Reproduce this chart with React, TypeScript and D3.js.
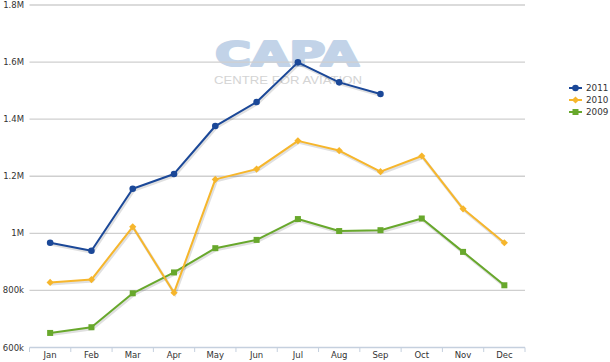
import React from 'react';
import * as d3 from 'd3';

const months = ['Jan', 'Feb', 'Mar', 'Apr', 'May', 'Jun', 'Jul', 'Aug', 'Sep', 'Oct', 'Nov', 'Dec'];
const s2011 = [967000, 939000, 1156000, 1208000, 1376000, 1460000, 1599000, 1529000, 1488000];
const s2010 = [828000, 838000, 1023000, 792000, 1189000, 1225000, 1324000, 1290000, 1216000, 1271000, 1086000, 967000];
const s2009 = [651000, 671000, 790000, 863000, 948000, 977000, 1050000, 1008000, 1011000, 1052000, 935000, 818000];
const yTicks = [600000, 800000, 1000000, 1200000, 1400000, 1600000, 1800000];
const yTickLabels = ['600k', '800k', '1M', '1.2M', '1.4M', '1.6M', '1.8M'];

const W = 610;
const H = 362;
const FONT = '"DejaVu Sans", Verdana, sans-serif';

const series = [
  { name: '2011', values: s2011, color: '#1b4898', marker: 'circle' },
  { name: '2010', values: s2010, color: '#f6b62c', marker: 'diamond' },
  { name: '2009', values: s2009, color: '#68a82c', marker: 'square' },
];

function Marker({ kind, x, y, color }) {
  if (kind === 'circle') return <circle cx={x} cy={y} r={3.3} fill={color} />;
  if (kind === 'square') return <rect x={x - 3} y={y - 3} width={6} height={6} fill={color} />;
  return <path d={`M${x},${y - 3.6}L${x + 3.6},${y}L${x},${y + 3.6}L${x - 3.6},${y}Z`} fill={color} />;
}

export default function App() {
  const x = d3.scaleBand().domain(months).range([29.5, 525]).padding(0);
  const y = d3.scaleLinear().domain([600000, 1800000]).range([347.5, 5]);
  const cx = (m) => x(m) + x.bandwidth() / 2;

  const line = d3.line()
    .x((d, i) => cx(months[i]))
    .y(d => y(d));

  return (
    <svg width={W} height={H} style={{ position: 'absolute', left: 0, top: 0, background: '#fff' }}>
      {/* watermark */}
      <text x={215} y={66} fontFamily='"DejaVu Sans", sans-serif' fontWeight="bold" fontSize={33}
        fill="#c2d3e8" stroke="#c2d3e8" strokeWidth={2.2} strokeLinejoin="round"
        textLength={144} lengthAdjust="spacingAndGlyphs">CAPA</text>
      <text x={214} y={83.5} fontFamily='"Liberation Sans", Arial, sans-serif' fontSize={11}
        fill="#d4d4d4" textLength={148} lengthAdjust="spacingAndGlyphs">CENTRE FOR AVIATION</text>

      {/* grid + y labels */}
      {yTicks.map((t, i) => (
        <g key={t}>
          {i > 0 && (
            <line x1={29.5} x2={525} y1={y(t)} y2={y(t)} stroke="#cfcfcf" strokeWidth={1.3} />
          )}
          <text x={24} y={y(t) + 3} textAnchor="end" fontFamily={FONT} fontSize={8.5} fill="#333">
            {yTickLabels[i]}
          </text>
        </g>
      ))}

      {/* x axis */}
      <line x1={29.5} x2={525} y1={347.5} y2={347.5} stroke="#c5d0de" strokeWidth={1.5} />
      {months.map(m => (
        <line key={'t' + m} x1={x(m)} x2={x(m)} y1={347.5} y2={352} stroke="#c5d0de" strokeWidth={1} />
      ))}
      <line x1={525} x2={525} y1={347.5} y2={352} stroke="#c5d0de" strokeWidth={1} />
      {months.map(m => (
        <text key={m} x={cx(m)} y={358} textAnchor="middle" fontFamily={FONT} fontSize={8.5} fill="#333">{m}</text>
      ))}

      {/* series */}
      {[...series].reverse().map(s => (
        <g key={s.name}>
          <path d={line(s.values)} fill="none" stroke="rgba(0,0,0,0.12)" strokeWidth={3} transform="translate(1,1.5)" />
          <path d={line(s.values)} fill="none" stroke={s.color} strokeWidth={2} strokeLinejoin="round" />
          {s.values.map((v, i) => (
            <Marker key={i} kind={s.marker} x={cx(months[i])} y={y(v)} color={s.color} />
          ))}
        </g>
      ))}

      {/* legend */}
      {series.map((s, i) => {
        const ly = 88 + i * 12;
        return (
          <g key={'l' + s.name}>
            <line x1={569} x2={582} y1={ly} y2={ly} stroke={s.color} strokeWidth={2} />
            <Marker kind={s.marker} x={575.5} y={ly} color={s.color} />
            <text x={586} y={ly + 3.3} fontFamily={FONT} fontSize={8.8} fill="#333">{s.name}</text>
          </g>
        );
      })}
    </svg>
  );
}
